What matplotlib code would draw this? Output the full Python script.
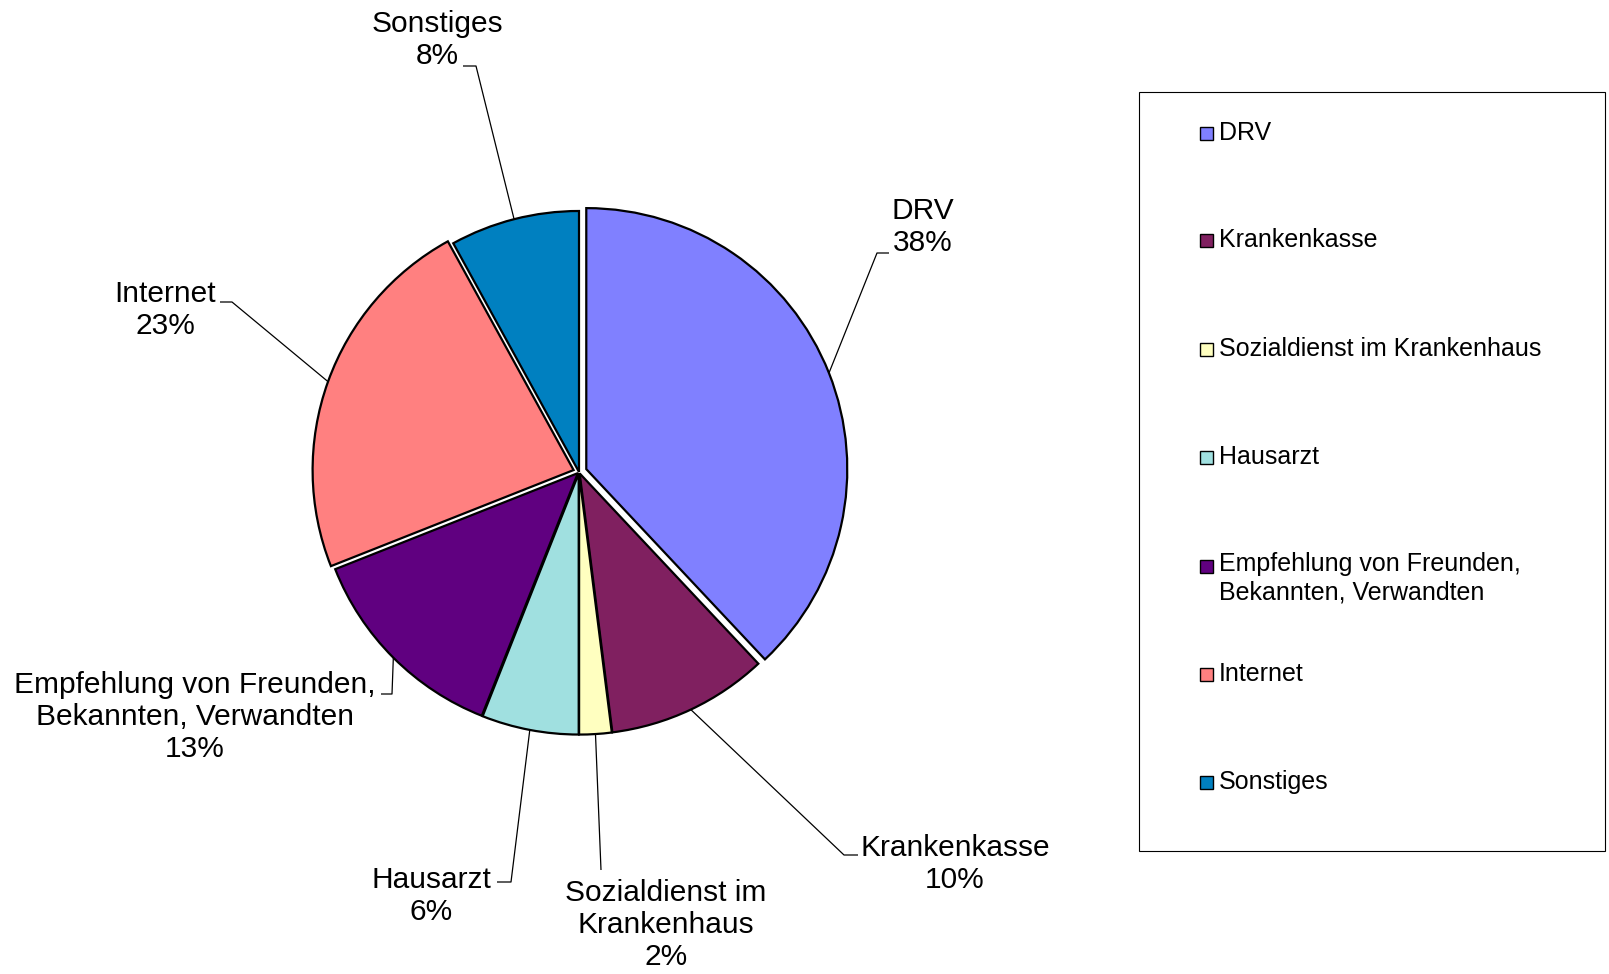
import numpy as np
import matplotlib
matplotlib.use("Agg")
import matplotlib.pyplot as plt
from matplotlib.patches import Rectangle

plt.rcParams['font.family'] = ['Liberation Sans', 'DejaVu Sans']

# data
categories = ['DRV', 'Krankenkasse', 'Sozialdienst im Krankenhaus', 'Hausarzt',
              'Empfehlung von Freunden, Bekannten, Verwandten', 'Internet', 'Sonstiges']
shares = [38, 10, 2, 6, 13, 23, 8]
pie_labels = ['DRV', 'Krankenkasse', 'Sozialdienst im\nKrankenhaus', 'Hausarzt',
              'Empfehlung von Freunden,\nBekannten, Verwandten', 'Internet', 'Sonstiges']
legend_labels = ['DRV', 'Krankenkasse', 'Sozialdienst im Krankenhaus', 'Hausarzt',
                 'Empfehlung von Freunden,\nBekannten, Verwandten', 'Internet', 'Sonstiges']
colors = ['#8080FF', '#802060', '#FFFFC0', '#A0E0E0', '#600080', '#FF8080', '#0080C0']
explode = [0.03, 0.006, 0.006, 0.006, 0.006, 0.022, 0.0]

W, H = 1609, 974
fig = plt.figure(figsize=(W / 100, H / 100), dpi=100)
ax = fig.add_axes([0, 0, 1, 1])

def fy(y):
    # image y (top down) -> axes y
    return H - y

R = 261
cx, cy = 579, fy(472)
wedges, _ = ax.pie(shares, colors=colors, startangle=90, counterclock=False,
                   radius=R, center=(cx, cy), explode=[e * R for e in explode],
                   wedgeprops=dict(edgecolor='black', linewidth=1.6))
ax.set_xlim(0, W)
ax.set_ylim(0, H)
ax.set_aspect('equal')
ax.axis('off')

# label placement (text centre, leader elbow, leader end) in image pixels
text_pos = [(923, 227), (955, 864), (666, 925), (431, 896), (195, 717), (165, 310), (437, 40)]
elbows = [(877, 253), (844, 855), (601, 870), (511, 882), (392, 694), (232, 302), (476, 66)]
ends = [(889, 253), (858, 855), (601, 870), (497, 882), (381, 694), (220, 302), (463, 66)]

for w, lab, val, tp, el, en in zip(wedges, pie_labels, shares, text_pos, elbows, ends):
    th = np.deg2rad((w.theta1 + w.theta2) / 2)
    x0 = w.center[0] + w.r * np.cos(th)
    y0 = w.center[1] + w.r * np.sin(th)
    ax.plot([x0, el[0], en[0]], [y0, fy(el[1]), fy(en[1])], color='black', lw=0.9,
            solid_capstyle='butt', zorder=1)
    ax.text(tp[0], fy(tp[1]), f'{lab}\n{val}%', ha='center', va='center',
            multialignment='center', fontsize=21.5, linespacing=1.18)

# legend box drawn by hand to match the Excel layout
ax.add_patch(Rectangle((1139, fy(851)), 1605 - 1139, 851 - 92, facecolor='white',
                       edgecolor='black', lw=0.8))
leg_y = [133, 240, 349, 457, 566, 674, 782]
for lab, col, y in zip(legend_labels, colors, leg_y):
    ax.add_patch(Rectangle((1200, fy(y) - 6.5), 13, 13, facecolor=col,
                           edgecolor='black', lw=1.0))
    if '\n' in lab:
        ax.text(1219, fy(y) + 14, lab, ha='left', va='top', fontsize=18, linespacing=1.25)
    else:
        ax.text(1219, fy(y), lab, ha='left', va='center', fontsize=18)

fig.savefig('out.png', dpi=100)
